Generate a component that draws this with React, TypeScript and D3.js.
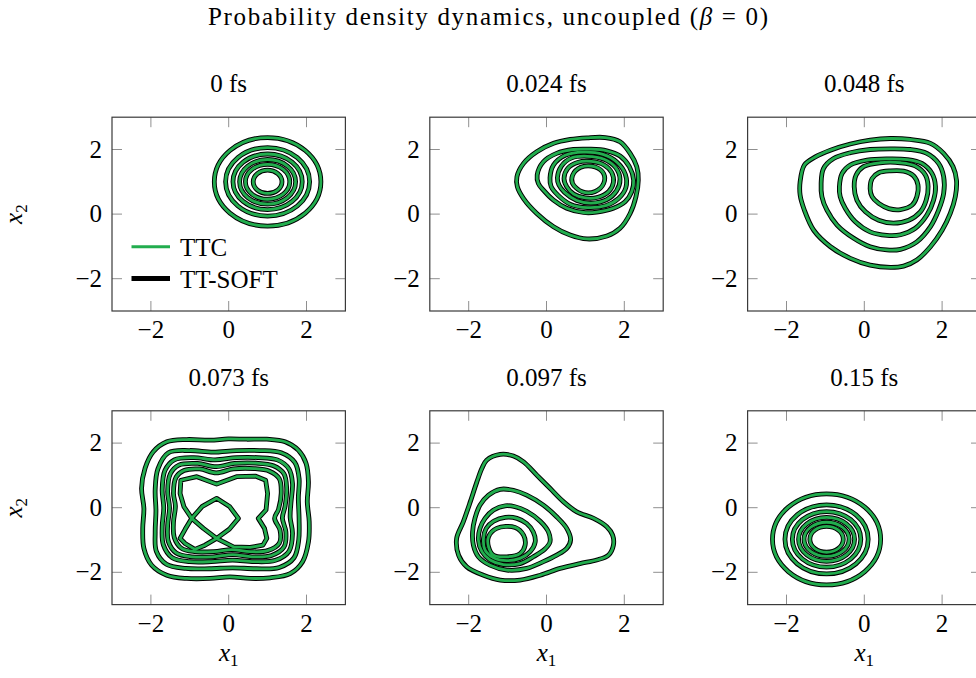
import { useEffect, useRef } from "react";
import * as d3 from "d3";

type Pt = [number, number];

const panelTitles = ["0 fs", "0.024 fs", "0.048 fs", "0.073 fs", "0.097 fs", "0.15 fs"];
const axisDomain = [-3, 3];
const tickValues = [-2, 0, 2];
const legendLabels = ["TTC", "TT-SOFT"];

// level sets that are (nearly) circular: [cx, cy, rx, ry]
const rings0fs = [
  [1.0, 1.0, 1.37, 1.37],
  [1.0, 1.0, 1.08, 1.06],
  [1.0, 1.0, 0.89, 0.86],
  [1.0, 1.0, 0.72, 0.69],
  [1.0, 1.0, 0.57, 0.54],
  [1.0, 1.0, 0.37, 0.36],
];

const rings015fs = [
  [-0.97, -0.98, 1.39, 1.41],
  [-0.97, -0.98, 1.07, 1.07],
  [-0.97, -0.98, 0.88, 0.86],
  [-0.97, -0.98, 0.72, 0.68],
  [-0.97, -0.98, 0.58, 0.53],
  [-0.97, -0.98, 0.43, 0.4],
];

// traced level curves, outermost first
const contours024fs: Pt[][] = [
  [[-0.76, 1.16], [-0.59, 1.57], [-0.25, 1.93], [0.18, 2.19], [0.61, 2.31], [1.04, 2.36], [1.51, 2.37], [1.89, 2.24], [2.15, 1.88], [2.32, 1.47], [2.36, 1.05], [2.3, 0.54], [2.15, 0.02], [1.89, -0.44], [1.55, -0.68], [1.04, -0.77], [0.61, -0.65], [0.18, -0.39], [-0.25, 0.02], [-0.59, 0.48], [-0.75, 0.85]],
  [[-0.24, 1.21], [-0.08, 1.62], [0.26, 1.88], [0.69, 2.0], [1.12, 2.01], [1.55, 1.96], [1.89, 1.8], [2.13, 1.47], [2.24, 1.05], [2.19, 0.69], [2.02, 0.38], [1.72, 0.18], [1.29, 0.06], [0.95, 0.05], [0.52, 0.18], [0.18, 0.43], [-0.08, 0.74], [-0.21, 0.95]],
  [[0.09, 1.12], [0.18, 1.52], [0.48, 1.82], [0.95, 1.92], [1.45, 1.85], [1.82, 1.6], [2.03, 1.22], [2.04, 0.82], [1.85, 0.48], [1.52, 0.26], [1.05, 0.2], [0.62, 0.3], [0.3, 0.58], [0.12, 0.85]],
  [[0.28, 1.12], [0.38, 1.48], [0.65, 1.74], [1.05, 1.79], [1.48, 1.7], [1.78, 1.44], [1.89, 1.08], [1.8, 0.72], [1.55, 0.45], [1.15, 0.34], [0.78, 0.42], [0.46, 0.68], [0.32, 0.9]],
  [[0.45, 1.1], [0.55, 1.42], [0.8, 1.6], [1.15, 1.63], [1.48, 1.52], [1.68, 1.28], [1.72, 0.98], [1.6, 0.7], [1.32, 0.52], [1.0, 0.5], [0.7, 0.62], [0.52, 0.85]],
  [[0.67, 0.95], [0.67, 1.2], [0.88, 1.45], [1.25, 1.46], [1.47, 1.25], [1.47, 0.95], [1.25, 0.7], [0.92, 0.69]],
];

const contours048fs: Pt[][] = [
  [[-1.65, 1.0], [-1.54, 1.52], [-1.26, 1.77], [-0.87, 1.98], [-0.36, 2.17], [0.15, 2.29], [0.67, 2.34], [1.18, 2.31], [1.7, 2.19], [2.04, 1.88], [2.28, 1.47], [2.37, 1.05], [2.34, 0.54], [2.21, 0.02], [2.0, -0.5], [1.7, -1.01], [1.35, -1.42], [1.01, -1.61], [0.67, -1.65], [0.15, -1.58], [-0.36, -1.37], [-0.87, -1.01], [-1.3, -0.5], [-1.54, 0.12], [-1.65, 0.59]],
  [[-1.11, 0.95], [-1.05, 1.41], [-0.79, 1.72], [-0.36, 1.9], [0.15, 2.0], [0.67, 2.02], [1.18, 2.0], [1.61, 1.88], [1.91, 1.57], [2.04, 1.16], [2.04, 0.64], [1.91, 0.12], [1.7, -0.39], [1.35, -0.86], [0.93, -1.09], [0.58, -1.11], [0.15, -1.01], [-0.27, -0.75], [-0.7, -0.34], [-0.96, 0.12], [-1.09, 0.54]],
  [[-0.64, 0.85], [-0.57, 1.26], [-0.36, 1.52], [0.07, 1.67], [0.58, 1.71], [1.1, 1.69], [1.48, 1.57], [1.74, 1.26], [1.83, 0.85], [1.78, 0.43], [1.61, -0.03], [1.31, -0.44], [0.93, -0.64], [0.58, -0.66], [0.15, -0.55], [-0.23, -0.24], [-0.49, 0.18], [-0.62, 0.54]],
  [[-0.26, 0.85], [-0.21, 1.21], [-0.02, 1.47], [0.41, 1.59], [0.93, 1.59], [1.31, 1.49], [1.57, 1.21], [1.64, 0.85], [1.59, 0.43], [1.44, 0.07], [1.14, -0.19], [0.75, -0.28], [0.37, -0.19], [0.03, 0.07], [-0.19, 0.43]],
  [[0.15, 0.79], [0.2, 1.1], [0.37, 1.28], [0.67, 1.34], [1.01, 1.33], [1.27, 1.18], [1.38, 0.9], [1.35, 0.54], [1.23, 0.28], [0.93, 0.14], [0.63, 0.17], [0.37, 0.33], [0.2, 0.54]],
];

const contours073fs: Pt[][] = [
  [[-1.59, 2.04], [-1.08, 2.11], [-0.48, 2.09], [-0.01, 2.13], [0.46, 2.12], [0.98, 2.12], [1.45, 2.04], [1.79, 1.78], [1.99, 1.37], [2.05, 0.8], [2.02, 0.18], [2.07, -0.44], [2.05, -1.06], [1.9, -1.67], [1.58, -2.04], [1.06, -2.17], [0.55, -2.19], [0.03, -2.14], [-0.48, -2.19], [-1.08, -2.19], [-1.59, -2.09], [-1.98, -1.78], [-2.18, -1.26], [-2.21, -0.64], [-2.18, -0.02], [-2.24, 0.6], [-2.15, 1.22], [-1.94, 1.73]],
  [[-1.55, 1.7], [-1.0, 1.77], [-0.4, 1.72], [0.2, 1.77], [0.8, 1.77], [1.35, 1.7], [1.7, 1.4], [1.81, 0.9], [1.79, 0.3], [1.81, -0.35], [1.8, -1.0], [1.68, -1.55], [1.3, -1.85], [0.7, -1.89], [0.1, -1.86], [-0.5, -1.89], [-1.1, -1.88], [-1.6, -1.75], [-1.86, -1.35], [-1.89, -0.75], [-1.87, -0.1], [-1.89, 0.55], [-1.82, 1.2]],
  [[-1.4, 1.48], [-0.9, 1.55], [-0.35, 1.48], [0.2, 1.55], [0.75, 1.55], [1.25, 1.48], [1.55, 1.2], [1.64, 0.75], [1.6, 0.15], [1.58, -0.3], [1.64, -0.8], [1.55, -1.35], [1.2, -1.63], [0.65, -1.67], [0.1, -1.62], [-0.45, -1.67], [-1.0, -1.67], [-1.45, -1.55], [-1.68, -1.15], [-1.71, -0.6], [-1.67, 0.0], [-1.71, 0.55], [-1.64, 1.15]],
  [[-1.28, 1.32], [-0.8, 1.37], [-0.32, 1.27], [0.15, 1.37], [0.7, 1.38], [1.15, 1.3], [1.42, 1.05], [1.49, 0.6], [1.45, 0.05], [1.38, -0.32], [1.47, -0.75], [1.42, -1.22], [1.1, -1.48], [0.6, -1.52], [0.1, -1.45], [-0.4, -1.52], [-0.95, -1.52], [-1.35, -1.4], [-1.55, -1.05], [-1.57, -0.55], [-1.52, 0.0], [-1.57, 0.5], [-1.5, 1.05]],
  [[-1.15, 1.15], [-0.75, 1.2], [-0.32, 1.08], [0.12, 1.2], [0.65, 1.21], [1.05, 1.13], [1.3, 0.9], [1.35, 0.45], [1.28, -0.05], [1.18, -0.33], [1.32, -0.7], [1.3, -1.1], [1.0, -1.33], [0.55, -1.36], [0.08, -1.3], [-0.38, -1.36], [-0.88, -1.36], [-1.22, -1.25], [-1.4, -0.92], [-1.42, -0.45], [-1.37, 0.05], [-1.42, 0.45], [-1.35, 0.95]],
];

// the two crossing curves in the middle of the 0.073 fs frame
const butterfly073fs: Pt[][] = [
  [[-1.23, 0.85], [-0.82, 0.96], [-0.31, 0.73], [0.2, 0.96], [0.68, 0.98], [0.95, 0.85], [1.0, 0.44], [0.96, -0.07], [0.76, -0.33], [0.92, -0.64], [0.98, -0.95], [0.88, -1.16], [0.55, -1.23], [0.12, -1.21], [-0.31, -0.95], [-0.65, -0.64], [-0.95, -0.33], [-1.15, 0.03], [-1.25, 0.44]],
  [[-0.95, -0.33], [-0.68, 0.04], [-0.31, 0.29], [0.02, 0.04], [0.25, -0.33], [0.02, -0.66], [-0.31, -0.95], [-0.61, -1.16], [-0.87, -1.29], [-1.12, -1.11], [-1.25, -0.95], [-1.12, -0.67]],
];

const contours097fs: Pt[][] = [
  [[-1.19, 1.65], [-1.54, 1.47], [-1.66, 1.22], [-1.79, 0.8], [-1.96, 0.18], [-2.14, -0.44], [-2.31, -0.95], [-2.26, -1.47], [-2.05, -1.83], [-1.62, -2.09], [-1.19, -2.24], [-0.68, -2.24], [-0.16, -2.09], [0.35, -1.88], [0.86, -1.73], [1.29, -1.62], [1.59, -1.47], [1.72, -1.16], [1.7, -0.85], [1.55, -0.59], [1.21, -0.33], [0.78, -0.13], [0.44, 0.18], [0.09, 0.6], [-0.25, 1.01], [-0.59, 1.42], [-0.85, 1.6]],
  [[-1.19, 0.57], [-1.49, 0.39], [-1.71, 0.08], [-1.84, -0.33], [-1.9, -0.75], [-1.88, -1.16], [-1.75, -1.52], [-1.45, -1.78], [-1.02, -1.93], [-0.51, -1.88], [-0.08, -1.67], [0.26, -1.47], [0.52, -1.26], [0.62, -1.0], [0.52, -0.64], [0.26, -0.28], [-0.08, 0.08], [-0.51, 0.39], [-0.85, 0.54]],
  [[-1.06, 0.06], [-1.36, -0.07], [-1.58, -0.33], [-1.71, -0.64], [-1.75, -1.0], [-1.66, -1.36], [-1.45, -1.62], [-1.11, -1.76], [-0.68, -1.73], [-0.34, -1.52], [-0.04, -1.28], [0.09, -1.06], [0.05, -0.75], [-0.16, -0.42], [-0.51, -0.11], [-0.81, 0.03]],
  [[-1.06, -0.3], [-1.36, -0.42], [-1.55, -0.64], [-1.62, -0.95], [-1.58, -1.31], [-1.36, -1.55], [-1.02, -1.64], [-0.68, -1.57], [-0.42, -1.36], [-0.29, -1.06], [-0.34, -0.75], [-0.51, -0.49], [-0.76, -0.33]],
  [[-1.28, -0.64], [-0.81, -0.61], [-0.59, -0.85], [-0.55, -1.16], [-0.68, -1.42], [-1.02, -1.52], [-1.36, -1.47], [-1.49, -1.21], [-1.49, -0.9]],
];

const panels = [
  { title: panelTitles[0], rings: rings0fs, curves: [], sharp: [] },
  { title: panelTitles[1], rings: [], curves: contours024fs, sharp: [] },
  { title: panelTitles[2], rings: [], curves: contours048fs, sharp: [] },
  { title: panelTitles[3], rings: [], curves: contours073fs, sharp: butterfly073fs },
  { title: panelTitles[4], rings: [], curves: contours097fs, sharp: [] },
  { title: panelTitles[5], rings: rings015fs, curves: [], sharp: [] },
];

const W = 976,
  H = 678,
  colLeft = [112, 429.8, 747.6],
  rowTop = [117.2, 410.8],
  plotW = 233.4,
  plotH = 193.8,
  tickLen = 10,
  green = "#22ad4e",
  font = '"Liberation Serif"',
  fontSize = 25;

export default function App() {
  const ref = useRef<SVGSVGElement>(null);

  useEffect(() => {
    const svg = d3.select(ref.current);
    svg.selectAll("*").remove();
    drawFigure(svg);
  }, []);

  return (
    <svg
      ref={ref}
      width={W}
      height={H}
      style={{ position: "absolute", left: 0, top: 0, background: "#fff" }}
    />
  );
}

// every text node gets its font set inline
function addText(parent: any, size = fontSize) {
  return parent.append("text").style("font-family", font).style("font-size", size + "px");
}

function drawFigure(svg: any) {
  const fmt = d3.format("d");
  const defs = svg.append("defs");

  const title = addText(svg)
    .attr("x", 488)
    .attr("y", 25)
    .attr("text-anchor", "middle")
    .attr("textLength", 560)
    .attr("lengthAdjust", "spacing");
  title.append("tspan").text("Probability density dynamics, uncoupled (");
  title.append("tspan").style("font-style", "italic").text("β");
  title.append("tspan").text(" = 0)");

  panels.forEach((p, i) => {
    const col = i % 3,
      row = Math.floor(i / 3);
    const x0 = colLeft[col],
      y0 = rowTop[row];
    const x = d3.scaleLinear().domain(axisDomain).range([x0, x0 + plotW]);
    const y = d3.scaleLinear().domain(axisDomain).range([y0 + plotH, y0]);

    const clipId = "clip-" + i;
    defs
      .append("clipPath")
      .attr("id", clipId)
      .append("rect")
      .attr("x", x0)
      .attr("y", y0)
      .attr("width", plotW)
      .attr("height", plotH);

    const g = svg.append("g").attr("clip-path", `url(#${clipId})`);

    const smooth = d3
      .line<Pt>()
      .x((d) => x(d[0]))
      .y((d) => y(d[1]))
      .curve(d3.curveCatmullRomClosed.alpha(0.5));
    const sharp = d3
      .line<Pt>()
      .x((d) => x(d[0]))
      .y((d) => y(d[1]))
      .curve(d3.curveLinearClosed);

    // TT-SOFT underneath (thick black), TTC on top (thin green)
    [
      ["#000", 4.8],
      [green, 2.8],
    ].forEach(([color, width]) => {
      g.selectAll(null)
        .data(p.rings)
        .enter()
        .append("ellipse")
        .attr("cx", (d: number[]) => x(d[0]))
        .attr("cy", (d: number[]) => y(d[1]))
        .attr("rx", (d: number[]) => x(d[0] + d[2]) - x(d[0]))
        .attr("ry", (d: number[]) => y(d[1]) - y(d[1] + d[3]))
        .attr("fill", "none")
        .attr("stroke", color)
        .attr("stroke-width", width);

      g.selectAll(null)
        .data(p.curves)
        .enter()
        .append("path")
        .attr("d", smooth)
        .attr("fill", "none")
        .attr("stroke", color)
        .attr("stroke-width", width)
        .attr("stroke-linejoin", "round");

      g.selectAll(null)
        .data(p.sharp)
        .enter()
        .append("path")
        .attr("d", sharp)
        .attr("fill", "none")
        .attr("stroke", color)
        .attr("stroke-width", width)
        .attr("stroke-linejoin", "round");
    });

    // ticks on all four sides, pointing in
    const ticks = svg.append("g").attr("stroke", "#8f8f8f").attr("stroke-width", 1);
    tickValues.forEach((v) => {
      ticks.append("line").attr("x1", x(v)).attr("x2", x(v)).attr("y1", y0 + plotH).attr("y2", y0 + plotH - tickLen);
      ticks.append("line").attr("x1", x(v)).attr("x2", x(v)).attr("y1", y0).attr("y2", y0 + tickLen);
      ticks.append("line").attr("x1", x0).attr("x2", x0 + tickLen).attr("y1", y(v)).attr("y2", y(v));
      ticks.append("line").attr("x1", x0 + plotW).attr("x2", x0 + plotW - tickLen).attr("y1", y(v)).attr("y2", y(v));
    });

    svg
      .append("rect")
      .attr("x", x0)
      .attr("y", y0)
      .attr("width", plotW)
      .attr("height", plotH)
      .attr("fill", "none")
      .attr("stroke", "#3a3a3a")
      .attr("stroke-width", 1.2);

    tickValues.forEach((v) => {
      addText(svg)
        .attr("x", x(v))
        .attr("y", y0 + plotH + 27)
        .attr("text-anchor", "middle")
        .text(fmt(v));
      addText(svg)
        .attr("x", x0 - 10)
        .attr("y", y(v) + 8)
        .attr("text-anchor", "end")
        .text(fmt(v));
    });

    addText(svg)
      .attr("x", x0 + plotW / 2)
      .attr("y", y0 - 25)
      .attr("text-anchor", "middle")
      .text(p.title);

    if (row === 1) {
      const xl = addText(svg)
        .attr("x", x0 + plotW / 2)
        .attr("y", y0 + plotH + 56)
        .attr("text-anchor", "middle");
      xl.append("tspan").style("font-style", "italic").text("x");
      xl.append("tspan").style("font-size", "17px").attr("dy", 5).text("1");
    }

    if (col === 0) {
      const yl = addText(svg)
        .attr("transform", `translate(22,${y0 + plotH / 2}) rotate(-90)`)
        .attr("text-anchor", "middle");
      yl.append("tspan").style("font-style", "italic").text("x");
      yl.append("tspan").style("font-size", "17px").attr("dy", 5).text("2");
    }

    if (i === 0) {
      const legend = svg.append("g");
      const entries = [
        { label: legendLabels[0], color: green, width: 3, yy: 246.7 },
        { label: legendLabels[1], color: "#000", width: 5, yy: 278.5 },
      ];
      entries.forEach((e) => {
        legend
          .append("line")
          .attr("x1", 131.5)
          .attr("x2", 170)
          .attr("y1", e.yy)
          .attr("y2", e.yy)
          .attr("stroke", e.color)
          .attr("stroke-width", e.width);
        addText(legend)
          .attr("x", 180)
          .attr("y", e.yy + 9.5)
          .text(e.label);
      });
    }
  });
}
